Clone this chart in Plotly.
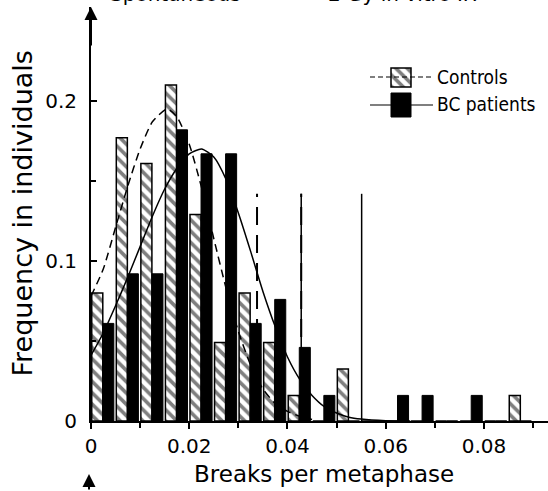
import plotly.graph_objects as go

# ---------------- data ----------------
bin_centers = [0.0025, 0.0075, 0.0125, 0.0175, 0.0225, 0.0275, 0.0325, 0.0375, 0.0425,
               0.0475, 0.0525, 0.0575, 0.0625, 0.0675, 0.0725, 0.0775, 0.0825, 0.0875]
controls_freq = [0.080, 0.177, 0.161, 0.210, 0.129, 0.049, 0.080, 0.049, 0.016,
                 0.0, 0.0325, 0.0, 0.0, 0.0, 0.0, 0.0, 0.0, 0.016]
bc_freq = [0.061, 0.092, 0.092, 0.182, 0.167, 0.167, 0.061, 0.076, 0.046,
           0.016, 0.0, 0.0, 0.016, 0.016, 0.0, 0.016, 0.0, 0.0]

controls_fit_x = [0.0, 0.0025, 0.005, 0.0075, 0.01, 0.0125, 0.0155, 0.0175, 0.02, 0.0225,
                  0.025, 0.0275, 0.03, 0.0325, 0.035, 0.0375, 0.04, 0.0425, 0.045]
controls_fit_y = [0.078, 0.095, 0.121, 0.147, 0.170, 0.187, 0.195, 0.190, 0.173, 0.146,
                  0.114, 0.083, 0.056, 0.035, 0.020, 0.011, 0.006, 0.003, 0.001]

bc_fit_x = [0.0, 0.0025, 0.005, 0.0075, 0.01, 0.0125, 0.015, 0.0175, 0.02, 0.0225, 0.025,
            0.0275, 0.03, 0.0325, 0.035, 0.0375, 0.04, 0.0425, 0.045, 0.0475, 0.05,
            0.0525, 0.055, 0.06, 0.065]
bc_fit_y = [0.041, 0.055, 0.072, 0.090, 0.109, 0.128, 0.145, 0.158, 0.167, 0.170, 0.165,
            0.151, 0.130, 0.106, 0.081, 0.059, 0.040, 0.026, 0.016, 0.009, 0.005,
            0.0024, 0.0012, 0.0002, 0.0]

controls_marks = [0.0338, 0.0428]
bc_marks = [0.0428, 0.0551]
mark_top = 0.142

x_tickvals = [0, 0.02, 0.04, 0.06, 0.08]
x_ticktext = ["0", "0.02", "0.04", "0.06", "0.08"]
y_tickvals = [0, 0.1, 0.2]
y_ticktext = ["0", "0.1", "0.2"]

series_names = ["Controls", "BC patients"]
panel_titles = ["Spontaneous", "2 Gy in vitro IR"]
x_title = "Breaks per metaphase"
y_title = "Frequency in individuals"

# ---------------- figure ----------------
W, H = 548, 491
L, R, T, B = 91, 0, 7, 70
PX_X = 4912.0   # px per unit x
PX_Y = 1600.0   # px per unit y
plot_w = W - L - R
plot_h = H - T - B
FONT = "DejaVu Sans"
HATCH = dict(shape="\\", fgcolor="black", bgcolor="white", size=8, solidity=0.45)

fig = go.Figure()

fig.add_trace(go.Bar(
    x=bin_centers, y=controls_freq, offset=-0.00235, width=0.00225,
    marker=dict(color="white", line=dict(color="black", width=1.5), pattern=HATCH),
    showlegend=False))
fig.add_trace(go.Bar(
    x=bin_centers, y=bc_freq, offset=-0.0001, width=0.00225,
    marker=dict(color="black", line=dict(color="black", width=1)),
    showlegend=False))

fig.add_trace(go.Scatter(x=controls_fit_x, y=controls_fit_y, mode="lines",
                         line=dict(color="black", width=1.5, dash="8px,5px",
                                   shape="spline", smoothing=0.6),
                         showlegend=False))
fig.add_trace(go.Scatter(x=bc_fit_x, y=bc_fit_y, mode="lines",
                         line=dict(color="black", width=1.5, shape="spline", smoothing=0.6),
                         showlegend=False))

for xv in controls_marks:
    fig.add_trace(go.Scatter(x=[xv, xv], y=[0, mark_top], mode="lines",
                             line=dict(color="black", width=2, dash="18px,10px"),
                             showlegend=False))
for xv in bc_marks:
    fig.add_trace(go.Scatter(x=[xv, xv], y=[0, mark_top], mode="lines",
                             line=dict(color="black", width=1.5),
                             showlegend=False))

# ---- manual legend in a small hidden axis (pixel-like units) ----
lx0, lx1, ly0, ly1 = 370, 433, 65, 120
fig.add_trace(go.Scatter(x=[0, 63], y=[12, 12], mode="lines", xaxis="x2", yaxis="y2",
                         line=dict(color="black", width=1.2, dash="5px,3px"), showlegend=False))
fig.add_trace(go.Scatter(x=[0, 63], y=[40, 40], mode="lines", xaxis="x2", yaxis="y2",
                         line=dict(color="black", width=1.2), showlegend=False))
fig.add_trace(go.Bar(x=[21], y=[19], base=[3], offset=0, width=20, xaxis="x2", yaxis="y2",
                     marker=dict(color="white", line=dict(color="black", width=1.5),
                                 pattern=HATCH),
                     showlegend=False))
fig.add_trace(go.Bar(x=[21], y=[24], base=[28], offset=0, width=20, xaxis="x2", yaxis="y2",
                     marker=dict(color="black", line=dict(color="black", width=1)),
                     showlegend=False))

def px2paper_x(px):
    return (px - L) / plot_w

def px2paper_y(py):
    return (H - B - py) / plot_h

annotations = []
for name, py in zip(series_names, [77, 104]):
    annotations.append(dict(text=name, x=px2paper_x(435), y=px2paper_y(py), xref="paper",
                            yref="paper", xanchor="left", yanchor="middle", showarrow=False,
                            font=dict(family="DejaVu Sans Condensed, " + FONT, size=19, color="black")))

# cropped panel titles at top (the reference shows them cut by the top edge)
for t, xc in zip(panel_titles, [0.0171, 0.0634]):
    annotations.append(dict(text=t, x=xc, y=1, xref="x", yref="paper", xanchor="center",
                            yanchor="bottom", yshift=-1, showarrow=False,
                            font=dict(family=FONT, size=20, color="black")))

# axis titles
annotations.append(dict(text=x_title, x=px2paper_x(323.5), y=px2paper_y(474), xref="paper",
                        yref="paper", xanchor="center", yanchor="middle", showarrow=False,
                        font=dict(family=FONT, size=23, color="black")))
annotations.append(dict(text=y_title, x=px2paper_x(22), y=px2paper_y(213.5), xref="paper",
                        yref="paper", xanchor="center", yanchor="middle", showarrow=False,
                        textangle=-90, font=dict(family=FONT, size=27, color="black")))

# y axis arrow
y_top = plot_h / PX_Y
annotations.append(dict(x=0, y=y_top, xref="x", yref="y", ax=0, ay=40, axref="pixel",
                        ayref="pixel", showarrow=True, arrowhead=2, arrowsize=1.3,
                        arrowwidth=2, arrowcolor="black", text=""))
# arrow of the next panel at bottom
annotations.append(dict(x=px2paper_x(89), y=px2paper_y(474), xref="paper", yref="paper",
                        ax=0, ay=30, showarrow=True, arrowhead=2, arrowsize=1.3,
                        arrowwidth=2, arrowcolor="black", text=""))

fig.update_layout(
    width=W, height=H,
    margin=dict(l=L, r=R, t=T, b=B),
    paper_bgcolor="white", plot_bgcolor="white",
    barmode="overlay",
    showlegend=False,
    font=dict(family=FONT, size=20, color="black"),
    xaxis=dict(range=[0, plot_w / PX_X], showgrid=False, zeroline=False,
               showline=True, linecolor="black", linewidth=2,
               tickmode="array", tickvals=x_tickvals, ticktext=x_ticktext,
               ticks="outside", ticklen=6, tickwidth=1.5, tickcolor="black",
               minor=dict(dtick=0.01, ticks="outside", ticklen=5, tickwidth=1.5,
                          tickcolor="black"),
               tickfont=dict(family=FONT, size=20, color="black")),
    yaxis=dict(range=[0, plot_h / PX_Y], showgrid=False, zeroline=False,
               showline=True, linecolor="black", linewidth=2,
               tickmode="array", tickvals=y_tickvals, ticktext=y_ticktext,
               ticks="inside", ticklen=6, tickwidth=1.5, tickcolor="black",
               minor=dict(tickvals=[0.05, 0.15], ticks="inside", ticklen=5,
                          tickwidth=1.5, tickcolor="black"),
               ticklabelstandoff=8,
               tickfont=dict(family=FONT, size=20, color="black")),
    xaxis2=dict(domain=[px2paper_x(lx0), px2paper_x(lx1)], range=[0, lx1 - lx0],
                visible=False, anchor="y2", fixedrange=True),
    yaxis2=dict(domain=[px2paper_y(ly1), px2paper_y(ly0)], range=[ly1 - ly0, 0],
                visible=False, anchor="x2", fixedrange=True),
    annotations=annotations,
)

fig.write_html("out.html")
